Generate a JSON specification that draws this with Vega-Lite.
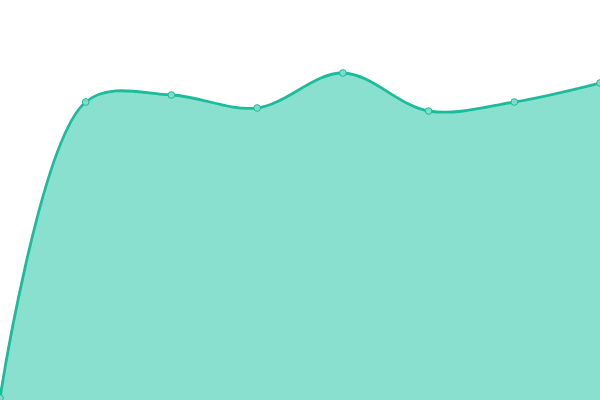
{
  "$schema": "https://vega.github.io/schema/vega-lite/v6.json",
  "autosize": {"type": "none"},
  "width": 600,
  "height": 400,
  "padding": 0,
  "config": {"view": {"stroke": null}},
  "data": {
    "values": [
      {"i": 0, "v": 2},
      {"i": 1, "v": 298},
      {"i": 2, "v": 305},
      {"i": 3, "v": 292},
      {"i": 4, "v": 327},
      {"i": 5, "v": 289},
      {"i": 6, "v": 298},
      {"i": 7, "v": 317}
    ]
  },
  "encoding": {
    "x": {"field": "i", "type": "quantitative", "axis": null, "scale": {"domain": [0, 7], "nice": false}},
    "y": {"field": "v", "type": "quantitative", "axis": null, "scale": {"domain": [0, 400], "nice": false}}
  },
  "layer": [
    {"mark": {"type": "area", "interpolate": "catmull-rom", "color": "#89e0cf"}},
    {"mark": {"type": "line", "interpolate": "catmull-rom", "color": "#1abc9c", "strokeWidth": 2.8}},
    {"mark": {"type": "point", "filled": true, "fill": "#7fdcc8", "stroke": "#1abc9c", "strokeWidth": 1, "size": 45, "opacity": 1}}
  ]
}
